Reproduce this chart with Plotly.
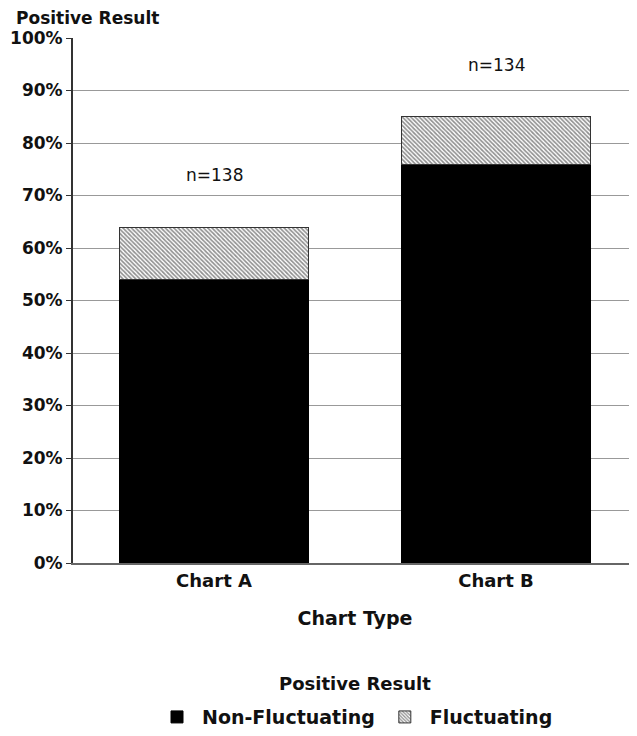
import plotly.graph_objects as go

categories = ["Chart A", "Chart B"]
non_fluct = [54, 76]
fluct = [10, 9]
n_labels = ["n=138", "n=134"]
y_ticks = [0, 10, 20, 30, 40, 50, 60, 70, 80, 90, 100]
y_tick_text = [f"{v}%" for v in y_ticks]

FONT = "DejaVu Sans, Verdana, sans-serif"
BOLD = dict(family=FONT, weight=600, color="#111")

fig = go.Figure()
fig.add_trace(go.Bar(
    x=categories, y=non_fluct, name="Non-Fluctuating",
    marker=dict(color="black", line=dict(color="black", width=1)),
))
fig.add_trace(go.Bar(
    x=categories, y=fluct, name="Fluctuating",
    marker=dict(color="white", line=dict(color="#333", width=1),
                pattern=dict(shape="\\", fgcolor="#222", bgcolor="white",
                             size=3, solidity=0.55)),
))

totals = [a + b for a, b in zip(non_fluct, fluct)]
for cat, tot, lab in zip(categories, totals, n_labels):
    fig.add_annotation(x=cat, y=tot, yshift=52, text=lab, showarrow=False,
                       font=dict(size=17, color="#111", family=FONT),
                       yanchor="middle")

fig.update_layout(
    width=629, height=728,
    barmode="stack", bargap=0.33,
    plot_bgcolor="white", paper_bgcolor="white",
    margin=dict(l=65, r=0, t=30, b=173),
    font=dict(family=FONT, color="#111", size=17),
    showlegend=True,
    legend=dict(orientation="h", x=0.5, xanchor="center",
                yref="container", y=0.026, yanchor="middle",
                font=dict(size=19, family=FONT, weight=600), itemwidth=40,
                traceorder="normal"),
    xaxis=dict(range=[-0.5, 1.5], showgrid=False, showline=True, linecolor="#666",
               linewidth=2, ticks="", tickfont=dict(size=18, **BOLD), automargin=False,
               title=dict(text="Chart Type", font=dict(size=19, **BOLD), standoff=22)),
    yaxis=dict(range=[0, 100], tickvals=y_ticks, ticktext=y_tick_text,
               tickfont=dict(size=17, **BOLD), showgrid=True, gridcolor="#999",
               gridwidth=1, showline=True, linecolor="#333", linewidth=2, automargin=False,
               ticks="outside", ticklen=5, tickcolor="#333", zeroline=False),
)
fig.add_annotation(xref="paper", yref="paper", x=-0.105, y=1.0, yshift=8,
                   xanchor="left", yanchor="bottom", showarrow=False,
                   text="Positive Result", font=dict(size=17, **BOLD))
fig.add_annotation(xref="paper", yref="paper", x=0.5, y=-0.229,
                   xanchor="center", yanchor="middle", showarrow=False,
                   text="Positive Result", font=dict(size=18, **BOLD))

fig.write_html("out.html")
